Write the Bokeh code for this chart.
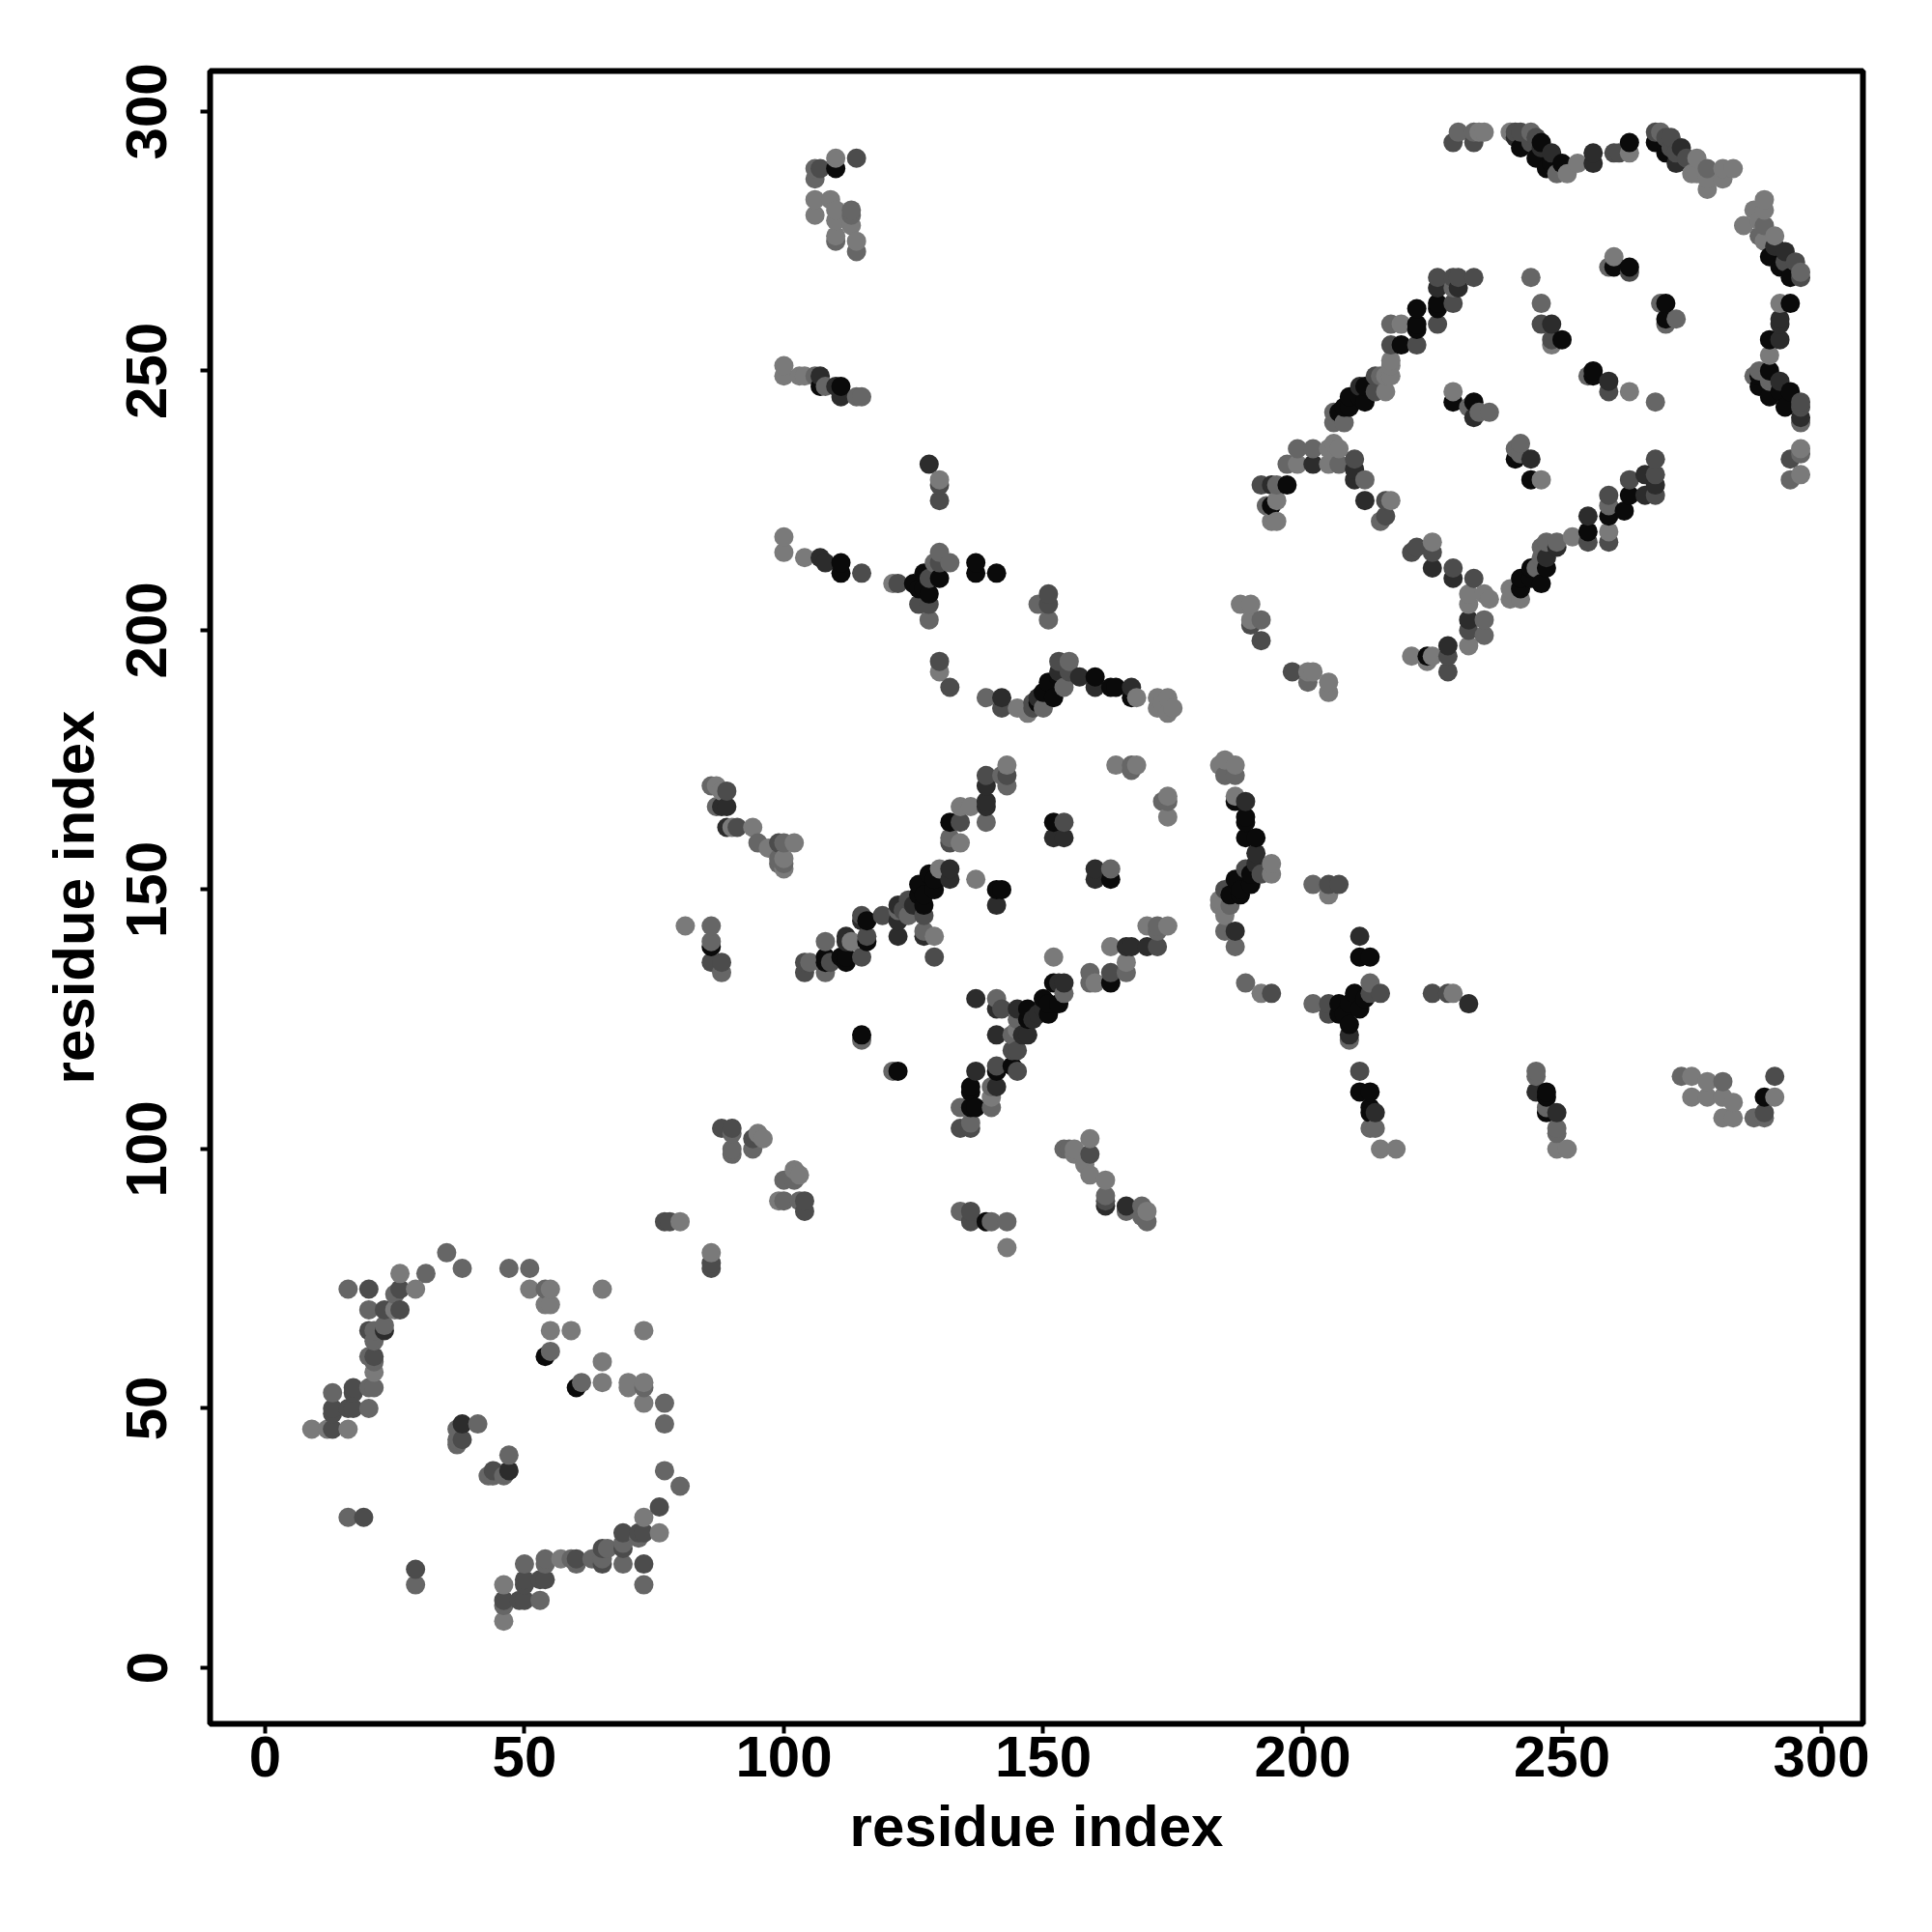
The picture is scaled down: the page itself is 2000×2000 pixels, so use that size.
from bokeh.plotting import figure
from bokeh.models import Range1d, FixedTicker, ColumnDataSource
from bokeh.embed import file_html
from bokeh.resources import INLINE

# (residue i, residue j, strength class 1..5)
cluster_low = [
(77,86,3),(78,86,3),(80,86,1),(86,80,1),(86,78,3),(86,77,3),(35,80,2),(38,77,2),(47,77,2),(51,77,2),
(26,76,1),(31,76,2),(16,73,2),(20,73,3),(26,73,3),(25,72,2),(29,73,1),(51,73,1),(54,73,2),(55,73,1),
(65,73,1),(20,69,2),(23,69,3),(25,69,1),(26,69,3),(54,70,1),(55,70,1),(20,65,3),(21,65,2),(23,65,4),
(23,66,2),(21,63,2),(55,65,1),(59,65,1),(73,65,1),(55,61,2),(54,60,5),(65,59,1),(20,60,2),(21,60,3),
(21,59,2),(21,57,1),(20,54,2),(21,54,2),(17,54,3),(17,53,3),(13,53,2),(61,55,2),(60,54,5),(65,55,1),
(70,55,1),(70,54,1),(73,55,1),(73,54,2),(73,51,1),(77,51,2),(77,47,2),(13,50,3),(13,49,3),(16,50,3),
(17,50,3),(20,50,2),(9,46,1),(12,46,1),(13,46,3),(16,46,1),(38,47,4),(37,46,2),(41,47,2),(38,44,3),
(37,44,2),(37,43,2),(47,41,2),(47,38,4),(44,38,3),(43,37,2),(44,37,2),(46,37,2),(77,38,2),(80,35,2),
(76,31,3),(73,29,1),(69,26,3),(72,26,3),(73,26,3),(76,26,1),(72,25,2),(69,24,2),(65,23,3),(66,23,2),
(69,23,3),(54,21,2),(57,21,1),(59,21,2),(60,21,3),(63,21,2),(65,21,2),(54,20,2),(60,20,2),(65,20,3),
(69,20,2),(73,20,3),(50,20,2),(29,19,3),(29,16,2),(46,16,1),(73,16,2),(50,17,3),(50,16,3),(53,17,3),
(54,17,3),(46,13,3),(46,12,2),(49,13,3),(50,13,3),(53,13,2),(46,9,1),(16,29,2),(19,29,3),
]
cluster_mid = [
(143,174,1),(139,172,3),(143,172,3),(142,172,2),(139,170,4),(143,170,2),(164,174,1),(167,174,2),(168,174,1),(167,173,2),
(174,168,1),(173,167,2),(174,167,2),(174,164,1),(86,170,2),(87,170,1),(89,169,3),(88,169,1),(87,166,2),(88,166,4),
(89,166,4),(89,162,4),(90,162,1),(91,162,3),(94,162,1),(95,159,2),(97,158,1),(99,159,3),(100,159,2),(102,159,1),
(99,156,2),(100,156,1),(99,155,2),(100,155,2),(100,154,1),(134,166,1),(136,166,1),(139,167,4),(139,166,4),(139,163,2),
(132,163,5),(134,163,3),(132,160,2),(134,159,1),(132,159,3),(152,163,5),(154,163,3),(152,160,4),(154,160,4),(137,152,1),
(141,150,5),(142,150,5),(141,147,4),(160,154,4),(163,154,2),(160,152,4),(163,152,5),(132,154,4),(132,152,4),(130,154,1),
(128,153,5),(129,152,5),(129,150,5),(126,151,5),(127,149,5),(126,149,5),(127,147,5),(125,147,4),(124,148,3),(122,147,4),
(123,146,3),(122,146,2),(124,145,2),(127,145,3),(122,144,4),(119,145,3),(115,145,3),(116,144,5),(115,144,4),(116,141,3),
(116,140,5),(112,141,4),(113,140,1),(112,140,4),(108,140,2),(122,141,4),(127,142,2),(129,141,1),(127,141,4),(129,137,3),
(115,137,3),(112,137,5),(112,136,5),(111,137,5),(108,137,5),(109,136,3),(108,136,5),(104,136,3),(105,136,2),(104,134,3),
(108,134,2),(86,143,2),(86,140,2),(86,139,5),(86,136,3),(88,136,3),(88,134,2),(81,143,1),(137,129,4),(141,129,2),
(141,127,4),(142,127,3),(152,132,5),(153,132,4),(154,132,4),(154,130,2),(153,128,5),(150,129,5),(151,128,5),(151,126,5),
(150,127,4),(149,126,4),(147,127,5),(147,125,5),(148,125,4),(145,127,4),(145,125,2),(145,123,1),(147,122,4),(146,122,4),
(144,122,2),(141,122,4),(145,119,3),(144,119,3),(144,116,5),(145,115,3),(141,116,3),(141,115,5),(137,115,4),(141,112,4),
(140,112,2),(136,112,5),(136,111,5),(140,110,1),(137,108,5),(140,108,2),(134,108,2),(136,108,5),(134,104,3),(136,105,2),
(136,104,3),(115,122,5),(115,121,2),(122,115,5),(121,115,2),(159,102,1),(159,99,3),(154,100,2),(155,100,2),(156,100,1),
(156,99,1),(158,97,1),(159,95,1),(162,94,1),(162,91,2),(162,90,3),(162,89,4),(166,89,4),(166,88,2),(169,89,2),
(170,88,1),(170,86,2),(169,87,2),(88,104,3),(90,104,3),(90,103,2),(90,100,2),(90,99,2),(94,100,2),(94,102,3),
(95,103,1),(96,102,1),(102,96,1),(103,95,1),(100,94,2),(102,94,2),(99,90,1),(100,90,2),(103,90,2),(104,90,3),
(104,88,3),(134,88,2),(136,88,3),(136,86,3),(139,86,5),(140,86,2),(143,86,2),(143,81,1),(170,143,1),(172,143,2),
(174,143,1),(172,142,2),(163,139,1),(166,139,4),(167,139,4),(170,139,4),(172,139,3),(166,136,1),(166,134,2),(163,134,3),
(163,132,5),(159,134,2),(160,132,1),(159,132,2),(152,137,1),
]
cluster_upper_left = [
(114,291,3),(110,291,1),(110,289,5),(107,289,3),(106,289,2),(106,287,2),(106,283,1),(109,283,1),(106,280,1),(110,281,1),
(110,279,1),(113,281,2),(113,280,2),(113,278,1),(110,276,1),(110,275,2),(114,275,1),(114,273,2),(100,251,1),(100,249,1),
(103,249,1),(104,249,1),(106,249,2),(107,249,4),(107,247,5),(108,247,2),(110,247,4),(111,247,5),(111,245,4),(114,245,2),
(115,245,2),(128,232,4),(130,229,1),(130,228,3),(130,225,3),(100,218,1),(100,215,1),(104,214,1),(107,214,4),(108,213,4),
(111,213,5),(111,211,5),(115,211,3),(121,209,1),(122,209,3),(125,209,5),(127,211,5),(130,215,2),(129,213,2),(132,213,2),
(130,213,3),(130,210,5),(128,210,3),(127,208,5),(128,207,5),(126,208,5),(126,205,3),(128,205,3),(128,202,2),(137,213,5),
(137,211,5),(141,211,5),(151,207,3),(149,205,2),(151,205,3),(151,202,2),(130,194,3),(130,192,1),(132,189,3),(139,187,2),
(142,187,4),(142,185,3),(145,185,1),(147,184,1),(148,185,3),(149,187,4),(148,186,3),(150,185,2),(149,186,5),(151,190,5),
(150,188,5),(152,187,5),(153,194,3),(153,192,4),(153,191,5),(154,189,2),(155,194,2),(155,192,3),(157,191,4),(160,191,5),
(160,189,4),(163,189,5),(164,189,5),(167,189,4),(167,187,5),(168,187,1),(172,187,1),(172,185,1),(174,187,1),(173,186,1),
(174,184,1),(175,185,1),
]
cluster_upper_right = [
(230,296,2),(229,294,3),(233,296,2),(233,294,3),(234,296,1),(235,296,1),(240,296,1),(241,296,3),(242,296,3),(244,296,2),
(241,295,4),(242,293,5),(244,294,3),(245,295,3),(246,294,5),(245,291,5),(246,293,4),(248,292,4),(247,289,5),(248,290,5),
(250,290,5),(249,288,2),(251,288,1),(253,290,1),(256,292,4),(256,290,4),(260,292,3),(261,292,3),(263,294,5),(263,292,1),
(268,296,3),(269,296,2),(268,294,5),(270,295,3),(270,292,5),(271,295,3),(271,293,3),(272,290,4),(273,293,4),(272,292,3),
(274,291,3),(276,291,1),(275,288,1),(278,289,2),(278,285,1),(276,288,1),(281,289,1),(283,289,1),(281,287,1),(278,287,1),
(289,283,1),(287,281,1),(289,281,1),(285,278,1),(288,279,1),(289,278,2),(288,276,2),(291,276,1),(289,275,1),(291,274,4),
(293,273,4),(290,272,5),(293,271,3),(292,270,5),(295,271,3),(296,269,2),(294,268,5),(296,268,3),(260,272,1),(259,270,2),
(260,270,5),(263,270,5),(263,269,3),(244,268,2),(226,268,3),(229,268,3),(230,268,3),(233,268,3),(226,266,4),(229,266,2),
(230,266,4),(229,263,3),(226,263,5),(222,262,5),(226,262,5),(222,259,5),(217,259,2),(219,259,1),(226,259,3),(222,258,5),
(217,255,3),(219,255,5),(222,255,3),(246,263,2),(246,259,3),(248,259,4),(248,256,3),(250,256,5),(248,255,1),(269,263,2),
(270,263,5),(270,260,5),(272,260,2),(270,259,2),(292,263,1),(294,263,5),(292,260,4),(292,259,4),(290,256,5),(292,256,4),
(290,253,1),(288,250,2),(287,249,2),(290,250,5),(288,249,5),(288,247,5),(290,248,2),(292,248,4),(290,245,5),(292,246,5),
(294,246,5),(293,243,5),(296,244,3),(296,243,3),(296,241,4),(296,240,2),(296,235,1),(296,234,2),(294,233,3),(296,230,1),
(294,229,2),(217,252,1),(217,251,1),(216,249,1),(217,249,1),(215,249,2),(214,249,3),(212,247,5),(211,247,4),(216,246,1),
(214,246,3),(212,244,5),(211,245,5),(209,245,5),(208,243,5),(209,243,5),(207,242,5),(206,242,2),(206,240,2),(208,240,2),
(229,246,1),(229,244,5),(233,244,5),(232,243,2),(233,241,4),(234,242,2),(236,242,2),(256,250,5),(256,249,5),(255,249,2),
(259,248,4),(259,246,3),(263,246,1),(268,244,2),(242,236,2),(241,235,2),(242,234,2),(241,233,5),(244,233,4),(244,229,5),
(246,229,1),(268,233,3),(263,229,3),(266,230,4),(268,230,3),(268,228,4),(266,226,4),(268,226,3),(263,226,5),(259,226,3),
(259,224,2),(262,223,5),(259,222,5),(255,222,4),(255,219,5),(255,217,3),(259,219,1),(259,217,3),(252,218,1),(249,217,2),
(247,217,2),(246,216,2),(249,216,4),(247,214,4),(246,214,2),(247,212,5),(245,212,2),(244,212,5),(246,209,5),(244,210,5),
(242,210,5),(242,208,5),(240,208,1),(240,206,1),(242,206,1),(199,235,2),(202,235,2),(205,235,1),(206,236,1),(207,235,1),
(197,232,2),(199,232,1),(202,232,4),(205,232,1),(207,232,2),(210,233,3),(210,231,4),(210,229,4),(212,229,2),(192,228,3),
(194,228,4),(197,228,5),(195,228,2),(194,224,5),(195,225,1),(193,224,2),(195,221,1),(194,221,1),(212,225,4),(216,225,3),
(217,225,1),(216,222,3),(215,221,2),(225,217,1),(222,216,3),(221,215,3),(225,215,3),(225,212,4),(229,212,3),(229,210,4),
(233,210,3),(232,207,1),(235,207,1),(232,205,1),(236,206,1),(232,202,4),(235,202,2),(232,200,3),(235,199,2),(232,197,1),
(228,197,4),(228,195,3),(221,195,1),(224,195,5),(225,195,1),(224,194,1),(228,192,3),(188,205,1),(190,205,1),(190,202,1),
(192,202,2),(190,201,3),(192,198,3),(198,192,3),(201,192,1),(201,190,2),(202,192,1),(205,190,1),(205,188,1),
]
cluster_lower_right = [
(185,175,1),(184,174,1),(187,174,1),(185,172,2),(187,172,2),(187,168,1),(189,167,4),(187,167,5),(189,164,5),(189,163,5),
(189,160,5),(191,160,5),(191,157,4),(191,155,4),(194,155,1),(194,153,1),(192,153,3),(190,153,5),(189,154,3),(187,152,5),
(190,151,5),(188,150,5),(185,150,3),(186,149,5),(188,149,5),(184,148,1),(186,147,2),(184,147,1),(185,145,1),(185,142,2),
(187,142,4),(187,139,2),(202,151,2),(205,151,3),(207,151,3),(205,149,1),(211,141,4),(211,137,5),(213,137,5),(189,132,2),
(192,130,1),(194,130,3),(202,128,2),(205,128,3),(205,126,3),(207,128,5),(207,126,5),(208,126,5),(209,124,5),(209,122,4),
(209,121,2),(210,130,5),(211,127,5),(209,128,5),(213,132,2),(213,130,3),(215,130,3),(212,129,5),(225,130,3),(228,130,3),
(229,130,1),(232,128,4),(211,115,3),(211,111,5),(213,111,5),(213,108,5),(214,107,4),(213,107,5),(213,104,2),(214,104,2),
(215,100,1),(218,100,1),(245,115,2),(245,114,2),(245,111,4),(247,111,5),(247,110,5),(247,108,2),(247,107,5),(249,107,4),
(249,104,2),(249,103,2),(249,100,1),(251,100,1),(273,114,2),(275,114,1),(278,113,1),(281,113,2),(275,110,1),(278,110,1),
(281,110,1),(283,109,1),(281,106,1),(283,106,1),(287,106,2),(289,106,2),(289,107,3),(289,110,5),(291,110,1),(291,114,3),
]
axis_ticks = [0, 50, 100, 150, 200, 250, 300]
x_title = "residue index"
y_title = "residue index"

greys = {1: "#7a7a7a", 2: "#666666", 3: "#4c4c4c", 4: "#2c2c2c", 5: "#0a0a0a"}
contacts = sorted(cluster_low + cluster_mid + cluster_upper_left + cluster_upper_right + cluster_lower_right,
                  key=lambda t: (t[0], t[1]))
source = ColumnDataSource(dict(
    x=[c[0] for c in contacts],
    y=[c[1] for c in contacts],
    color=[greys[c[2]] for c in contacts],
))

p = figure(width=1984, height=1984, output_backend="svg", toolbar_location=None,
           x_range=Range1d(-10.6, 308), y_range=Range1d(-10.8, 307.8),
           min_border_left=217, min_border_right=56, min_border_top=73, min_border_bottom=200)
p.scatter("x", "y", source=source, size=20, color="color", line_color=None)

p.grid.visible = False
p.outline_line_color = "black"
p.outline_line_width = 6
FONT = "Liberation Sans"
for ax, title in ((p.xaxis[0], x_title), (p.yaxis[0], y_title)):
    ax.ticker = FixedTicker(ticks=axis_ticks)
    ax.axis_label = title
    ax.axis_label_text_font = FONT
    ax.axis_label_text_font_style = "bold"
    ax.axis_label_text_font_size = "60px"
    ax.axis_label_text_color = "black"
    ax.major_label_text_font = FONT
    ax.major_label_text_font_style = "bold"
    ax.major_label_text_font_size = "60px"
    ax.major_label_text_color = "black"
    ax.axis_line_color = None
    ax.major_tick_in = 0
    ax.major_tick_out = 10
    ax.major_tick_line_width = 4
    ax.major_tick_line_color = "black"
    ax.minor_tick_line_color = None
p.yaxis[0].major_label_orientation = "vertical"
p.xaxis[0].major_label_standoff = 3
p.yaxis[0].major_label_standoff = 35
p.xaxis[0].axis_label_standoff = 15
p.yaxis[0].axis_label_standoff = 19

open("out.html", "w").write(file_html(p, INLINE))
